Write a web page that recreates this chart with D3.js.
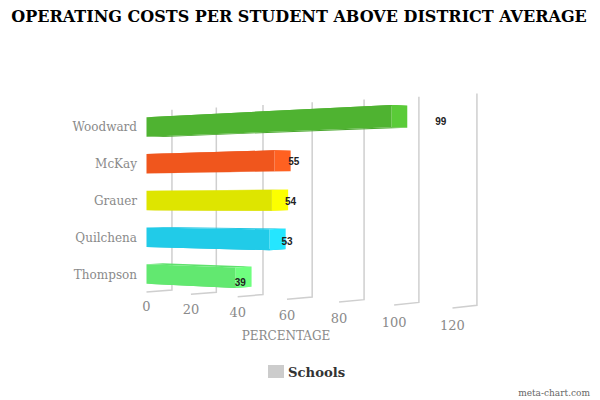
<!DOCTYPE html>
<meta charset="utf-8">
<style>
body { margin: 0; background: #fff; }
svg { display: block; }
text { font-family: "DejaVu Serif", serif; }
.tick-label { fill: #8a8a8a; font-size: 13px; }
.cat-label, .axis-title { fill: #8a8a8a; font-size: 12px; }
.grid { fill: none; stroke: #cfcfcf; stroke-width: 1.5; }
.value-label { font-family: "Liberation Sans", sans-serif; font-weight: bold; font-size: 10px; fill: #222; }
</style>
<svg width="600" height="400"></svg>
<script src="https://d3js.org/d3.v7.min.js"></script>
<script>
var categories = ["Woodward", "McKay", "Grauer", "Quilchena", "Thompson"];
var values = [99, 55, 54, 53, 39];
var colors = ["#4fb331", "#f0561d", "#dee500", "#21cbe8", "#62e870"];
var tickValues = [0, 20, 40, 60, 80, 100, 120];

var svg = d3.select("svg");

var x = d3.scaleLinear().domain([0, 120]).range([146.5, 384.1]);
var y = d3.scaleBand().domain(categories).range([108.5, 292.5]).paddingInner(0.47).paddingOuter(0.235);
var labelX = d3.scaleLinear().domain([0, 120]).range([110, 511]);
var labelY = d3.scalePoint().domain(categories).range([121, 282]);

// perspective: px,py on the front plane, z 0 = front, 1 = back wall
function project(px, py, z) {
  var dx = px - 146.5;
  var w = 1 - 0.000636 * dx + 0.0154 * z;
  return [(px + 28.1 * z) / w, (py - 0.1288 * dx + 2.47 * z) / w];
}

var barDepth = 0.64;

function face(pts) {
  return d3.line()(pts.map(function(p) { return project(p[0], p[1], p[2]); }));
}

// grid lines on the back wall and floor
svg.append("g").selectAll("path")
  .data(tickValues)
  .enter().append("path")
    .attr("class", "grid")
    .attr("d", function(d) {
      return face([[x(d), 109, 1], [x(d), 292, 1], [x(d), 292, 0]]);
    });

svg.append("g").selectAll("text")
  .data(tickValues)
  .enter().append("text")
    .attr("class", "tick-label")
    .attr("text-anchor", "middle")
    .attr("x", function(d) { return project(x(d), 311, 0)[0]; })
    .attr("y", function(d) { return project(x(d), 311, 0)[1]; })
    .text(function(d) { return d; });

var bars = svg.append("g").selectAll("g")
  .data(categories)
  .enter().append("g");

function addFace(kind, fill) {
  bars.append("path")
    .attr("fill", fill)
    .attr("d", function(d, i) {
      var x0 = x(0), x1 = x(values[i]), t = y(d), b = y(d) + y.bandwidth(), z = barDepth;
      if (kind == "top") return face([[x0, t, 0], [x1, t, 0], [x1, t, z], [x0, t, z]]);
      if (kind == "bottom") return face([[x0, b, 0], [x1, b, 0], [x1, b, z], [x0, b, z]]);
      if (kind == "side") return face([[x1, t, 0], [x1, t, z], [x1, b, z], [x1, b, 0]]);
      return face([[x0, t, 0], [x1, t, 0], [x1, b, 0], [x0, b, 0]]);
    });
}

addFace("top", function(d, i) { return d3.color(colors[i]).darker(0.08); });
addFace("bottom", function(d, i) { return d3.color(colors[i]).darker(0.2); });
addFace("side", function(d, i) { return d3.color(colors[i]).brighter(0.35); });
addFace("front", function(d, i) { return colors[i]; });

svg.append("g").selectAll("text")
  .data(categories)
  .enter().append("text")
    .attr("class", "cat-label")
    .attr("text-anchor", "end")
    .attr("x", 137)
    .attr("y", function(d) { return y(d) + y.bandwidth() / 2 + 4.5; })
    .text(function(d) { return d; });

svg.append("g").selectAll("text")
  .data(categories)
  .enter().append("text")
    .attr("class", "value-label")
    .attr("text-anchor", "middle")
    .attr("x", function(d, i) { return labelX(values[i]); })
    .attr("y", function(d) { return labelY(d) + 3.5; })
    .text(function(d, i) { return values[i]; });

svg.append("text")
  .attr("x", 299).attr("y", 22)
  .attr("text-anchor", "middle")
  .style("font-size", "16px").style("font-weight", "bold").style("fill", "#000")
  .text("OPERATING COSTS PER STUDENT ABOVE DISTRICT AVERAGE");

svg.append("text")
  .attr("class", "axis-title")
  .attr("x", 286).attr("y", 340)
  .attr("text-anchor", "middle")
  .text("PERCENTAGE");

svg.append("rect")
  .attr("x", 268).attr("y", 365).attr("width", 16).attr("height", 13)
  .attr("fill", "#cccccc");

svg.append("text")
  .attr("x", 288).attr("y", 377)
  .style("font-size", "13.2px").style("font-weight", "bold").style("fill", "#333")
  .text("Schools");

svg.append("text")
  .attr("x", 590).attr("y", 396)
  .attr("text-anchor", "end")
  .style("font-size", "9px").style("fill", "#666")
  .text("meta-chart.com");
</script>
